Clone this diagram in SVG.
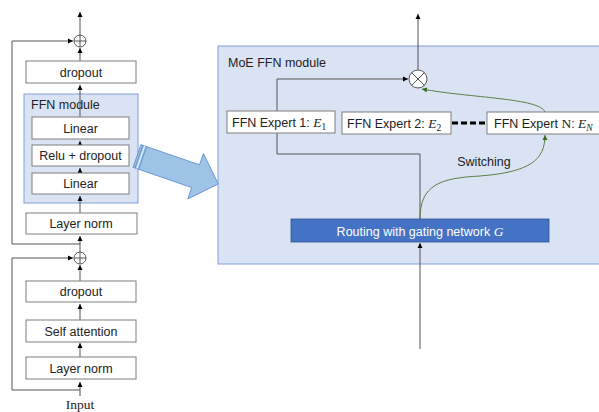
<svg xmlns="http://www.w3.org/2000/svg" width="599" height="412" viewBox="0 0 599 412">
<defs>
<marker id="ah" markerWidth="6" markerHeight="6" refX="5" refY="3" orient="auto" markerUnits="userSpaceOnUse"><path d="M0,0.5 L5,3 L0,5.5 Z" fill="#000"/></marker>
<marker id="ahg" markerWidth="6" markerHeight="6" refX="5" refY="3" orient="auto" markerUnits="userSpaceOnUse"><path d="M0,0.5 L5,3 L0,5.5 Z" fill="#3A6B24"/></marker>
<style>
.box{fill:#fff;stroke:#7f7f7f;stroke-width:1}
.t{font-family:"Liberation Sans",Arial,sans-serif;font-size:12.5px;fill:#222}
.tc{text-anchor:middle}
.m{font-family:"Liberation Serif","Times New Roman",serif;font-style:italic}
.ln{stroke:#555;stroke-width:1;fill:none}
.g{stroke:#5a7f46;stroke-width:1;fill:none}
.mod{fill:#dae3f3;stroke:#7f9fd4;stroke-width:1}
</style>
</defs>

<g id="moe-module">
<rect class="mod" x="218" y="46" width="382" height="218"/>
<text class="t" x="228" y="67">MoE FFN module</text>
</g>
<g id="ffn-module">
<rect class="mod" x="24" y="94" width="114" height="109"/>
<text class="t" x="31" y="109">FFN module</text>
</g>

<g id="connectors">
<line class="ln" x1="80" y1="396" x2="80" y2="382" marker-end="url(#ah)"/>
<line class="ln" x1="80" y1="357" x2="80" y2="343" marker-end="url(#ah)"/>
<line class="ln" x1="80" y1="320" x2="80" y2="304" marker-end="url(#ah)"/>
<line class="ln" x1="80" y1="281" x2="80" y2="265" marker-end="url(#ah)"/>
<line class="ln" x1="80" y1="252" x2="80" y2="236" marker-end="url(#ah)"/>
<line class="ln" x1="80" y1="213" x2="80" y2="196" marker-end="url(#ah)"/>
<line class="ln" x1="80" y1="173" x2="80" y2="168" marker-end="url(#ah)"/>
<line class="ln" x1="80" y1="145" x2="80" y2="141" marker-end="url(#ah)"/>
<line class="ln" x1="80" y1="117" x2="80" y2="85" marker-end="url(#ah)"/>
<line class="ln" x1="80" y1="61" x2="80" y2="48" marker-end="url(#ah)"/>
<line class="ln" x1="80" y1="35" x2="80" y2="12" marker-end="url(#ah)"/>
<polyline class="ln" points="80,390 12,390 12,258 73,258" marker-end="url(#ah)"/>
<polyline class="ln" points="80,244 12,244 12,41 73,41" marker-end="url(#ah)"/>

<line class="ln" x1="420" y1="349" x2="420" y2="243" marker-end="url(#ah)"/>
<polyline class="ln" points="420,219 420,154 277,154 277,79 408,79" marker-end="url(#ah)"/>
<line class="ln" x1="418" y1="70" x2="418" y2="14" marker-end="url(#ah)"/>
<path class="g" d="M545,112 C540,98 470,98 422,89" marker-end="url(#ahg)"/>
<path class="g" d="M420,219 C420,185 440,178 480,176 C530,172 545,160 545,135" marker-end="url(#ahg)"/>
<line x1="452" y1="123" x2="486" y2="123" stroke="#000" stroke-width="3" stroke-dasharray="6,3"/>
</g>

<g id="big-arrow">
<g transform="translate(137,156) rotate(19)">
<path d="M0,-12 L62,-12 L62,-24 L86,0 L62,24 L62,12 L0,12 Z" fill="#9dc3e6" stroke="#5b8fd0" stroke-width="0.8"/>
<line x1="2" y1="-12" x2="2" y2="12" stroke="#5b8fd0" stroke-width="0.8"/>
<line x1="4" y1="-12" x2="4" y2="12" stroke="#fff" stroke-width="0.8"/>
<line x1="6" y1="-12" x2="6" y2="12" stroke="#5b8fd0" stroke-width="0.8"/>
</g>
</g>

<g id="plus-top">
<circle cx="80" cy="41" r="6" fill="#fff" stroke="#555"/>
<path class="ln" d="M74,41 H86 M80,35 V47"/>
</g>
<g id="plus-bottom">
<circle cx="80" cy="258" r="6" fill="#fff" stroke="#555"/>
<path class="ln" d="M74,258 H86 M80,252 V264"/>
</g>

<g id="dropout-top">
<rect class="box" x="26" y="61" width="110" height="22"/>
<text class="t tc" x="81" y="76.5">dropout</text>
</g>
<g id="linear-top">
<rect class="box" x="32" y="117" width="97" height="22"/>
<text class="t tc" x="80.5" y="132.5">Linear</text>
</g>
<g id="relu-dropout">
<rect class="box" x="32" y="145" width="97" height="21"/>
<text class="t tc" x="80.5" y="160">Relu + dropout</text>
</g>
<g id="linear-bottom">
<rect class="box" x="32" y="173" width="97" height="21"/>
<text class="t tc" x="80.5" y="188">Linear</text>
</g>
<g id="layer-norm-top">
<rect class="box" x="26" y="213" width="111" height="21"/>
<text class="t tc" x="81" y="228">Layer norm</text>
</g>
<g id="dropout-bottom">
<rect class="box" x="26" y="281" width="110" height="21"/>
<text class="t tc" x="81" y="296">dropout</text>
</g>
<g id="self-attention">
<rect class="box" x="26" y="320" width="110" height="22"/>
<text class="t tc" x="81" y="335.5">Self attention</text>
</g>
<g id="layer-norm-bottom">
<rect class="box" x="26" y="357" width="110" height="22"/>
<text class="t tc" x="81" y="372.5">Layer norm</text>
</g>
<g id="input">
<text x="80" y="408.5" text-anchor="middle" font-family="Liberation Serif, serif" font-size="13.5" fill="#222">Input</text>
</g>

<g id="combine">
<circle cx="418" cy="79" r="9" fill="#fff" stroke="#555"/>
<path class="ln" d="M411.6,72.6 L424.4,85.4 M424.4,72.6 L411.6,85.4"/>
</g>

<g id="expert-1">
<rect class="box" x="227" y="111" width="108" height="22"/>
<text class="t" x="232" y="127">FFN Expert 1: <tspan class="m" font-size="13.5">E</tspan><tspan font-family="Liberation Serif,serif" font-size="9.5" dy="3">1</tspan></text>
</g>
<g id="expert-2">
<rect class="box" x="342" y="112" width="109" height="22"/>
<text class="t" x="347" y="128">FFN Expert 2: <tspan class="m" font-size="13.5">E</tspan><tspan font-family="Liberation Serif,serif" font-size="9.5" dy="3">2</tspan></text>
</g>
<g id="expert-n">
<rect class="box" x="487" y="112" width="114" height="22"/>
<text class="t" x="494" y="128">FFN Expert <tspan font-family="Liberation Serif,serif" font-size="13.5">N</tspan>: <tspan class="m" font-size="13.5">E</tspan><tspan class="m" font-size="9.5" dy="3">N</tspan></text>
</g>

<g id="switching-label">
<text class="t tc" x="484" y="166">Switching</text>
</g>

<g id="routing">
<rect x="291" y="219" width="258" height="23" fill="#4472c4" stroke="#2f5597" stroke-width="0.8"/>
<text class="t tc" x="420" y="235.5" style="fill:#fff">Routing with gating network <tspan class="m" font-size="13.5">G</tspan></text>
</g>
</svg>
